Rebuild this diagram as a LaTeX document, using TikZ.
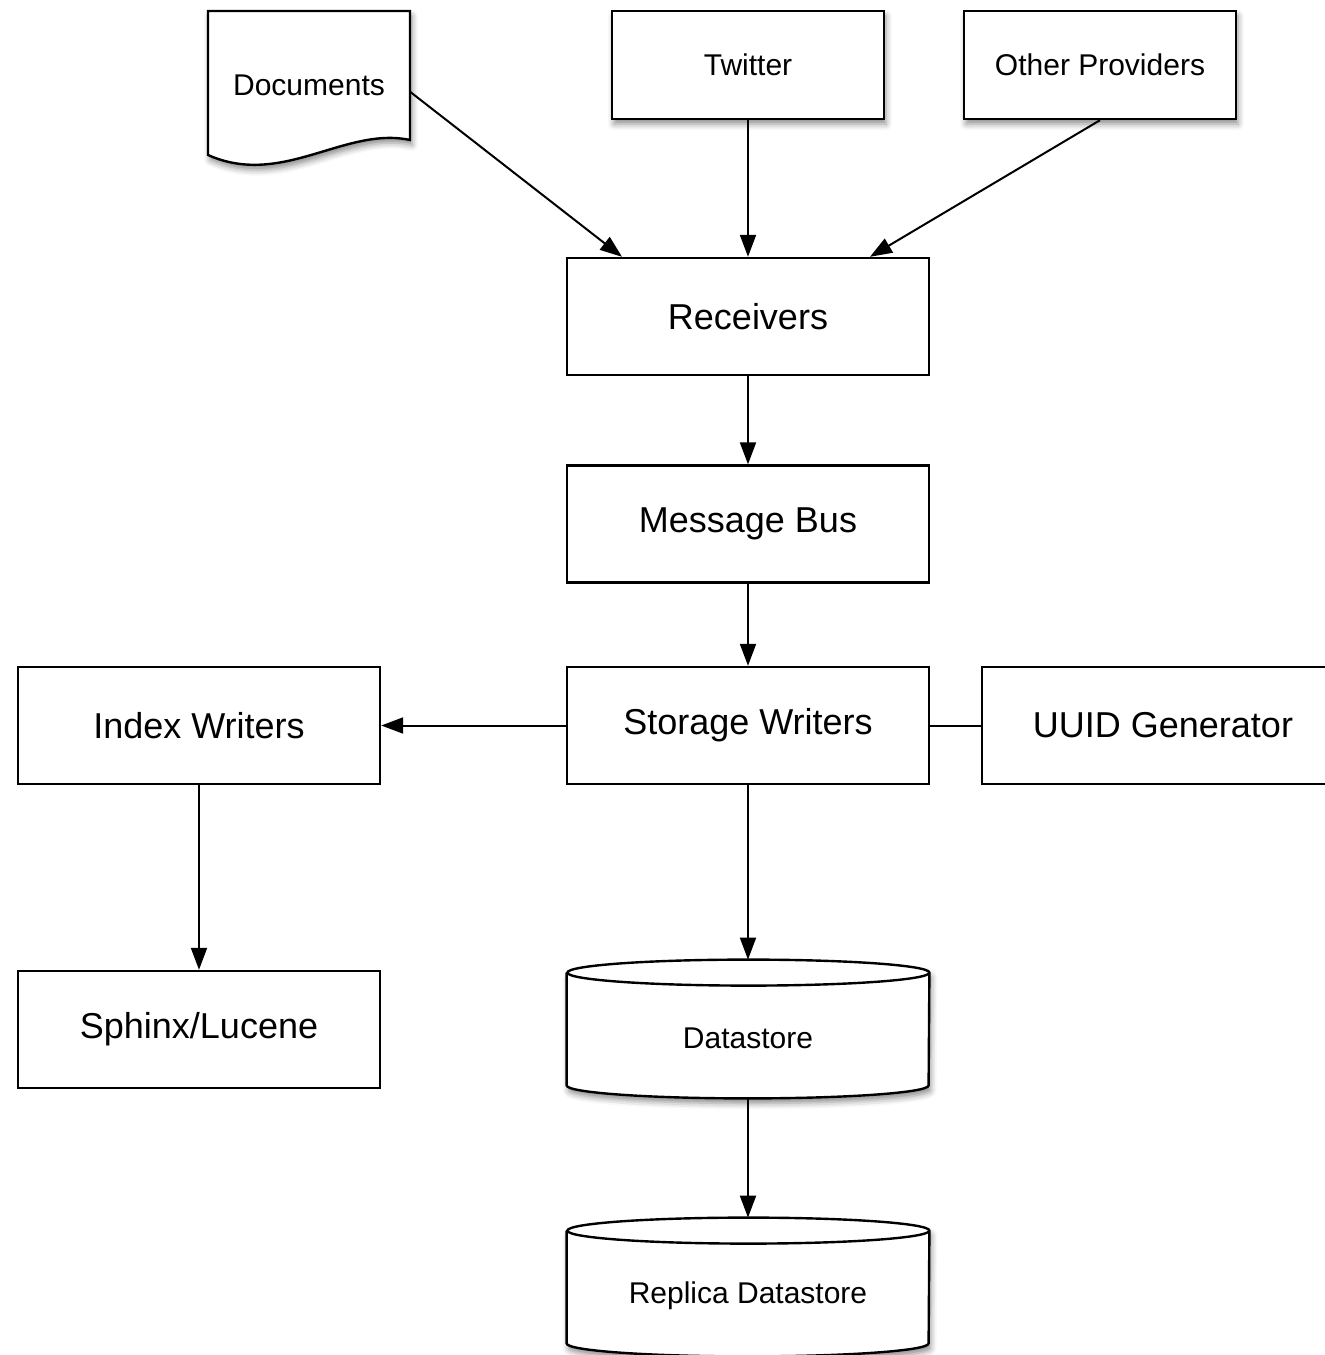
\documentclass[tikz,border=0pt]{standalone}
\usepackage{fontspec}
\setmainfont{Liberation Sans}
\usepackage{tikz}
\usetikzlibrary{arrows.meta,positioning,calc,shadows.blur}
\definecolor{pipeline}{HTML}{000000}
\definecolor{pipeshadow}{HTML}{555555}

\begin{document}
\begin{tikzpicture}[
  x=0.5pt,y=-0.5pt,
  font=\fontsize{18}{21}\selectfont,
  softshadow/.style={blur shadow={shadow xshift=1pt,shadow yshift=-2.5pt,shadow blur radius=3pt,shadow opacity=45}},
  box/.style={draw=pipeline,line width=1.2pt,fill=white,minimum width=181pt,minimum height=58.5pt,inner sep=0pt},
  source/.style={box,softshadow,minimum width=136pt,minimum height=54pt,font=\fontsize{15}{18}\selectfont},
  store/.style={minimum width=181pt,minimum height=69pt,inner sep=0pt,font=\fontsize{15}{18}\selectfont},
  outline/.style={draw=pipeline,line width=1.2pt,fill=white,softshadow},
  flow/.style={-{Triangle[length=11pt,width=8pt]},line width=1pt,pipeline}
]
\useasboundingbox (0,0) rectangle (1324,1355);

% inputs
\draw[outline] (208,11) -- (410,11) -- (410,140)
  .. controls (345,126) and (282,188) .. (208,155) -- cycle;
\node[minimum width=101pt,inner sep=0pt,font=\fontsize{15}{18}\selectfont] (doc) at (309,85) {Documents};
\node[source] (twitter) at (748,65) {Twitter};
\node[source] (other) at (1100,65) {Other Providers};

% pipeline
\node[box] (recv) at (748,316.5) {Receivers};
\node[box] (bus) at (748,524) {Message Bus};
\node[box] (storage) at (748,725.5) {Storage Writers};
\node[box] (index) at (199,725.5) {Index Writers};
\node[box] (uuid) at (1163,725.5) {UUID Generator};
\node[box] (sphinx) at (199,1029.5) {Sphinx/Lucene};

% datastores
\node[store] (data) at (748,1029) {};
\node[store] (replica) at (748,1287) {};
\foreach \db in {data,replica}{
  \draw[outline] ([yshift=-6.5pt]\db.north west) -- ([yshift=6.5pt]\db.south west)
    arc[start angle=180,end angle=360,x radius=90.5pt,y radius=6.5pt]
    -- ([yshift=-6.5pt]\db.north east)
    arc[start angle=0,end angle=180,x radius=90.5pt,y radius=6.5pt]
    arc[start angle=180,end angle=360,x radius=90.5pt,y radius=6.5pt];
}
\node[font=\fontsize{15}{18}\selectfont] (datatext) at ([yshift=-4.5pt]data.center) {Datastore};
\node[font=\fontsize{15}{18}\selectfont] (replicatext) at ([yshift=-4.5pt]replica.center) {Replica Datastore};

% connectors
\draw[flow] ([yshift=-3.5pt]doc.east) -- ([xshift=-63pt]recv.north);
\draw[flow] (twitter) -- (recv);
\draw[flow] (other.south) -- ([xshift=61pt]recv.north);
\draw[flow] (recv) -- (bus);
\draw[flow] (bus) -- (storage);
\draw[flow] (storage) -- (index);
\draw[line width=1pt,pipeline] (storage) -- (uuid);
\draw[flow] (storage.south) -- (data.north);
\draw[flow] (index) -- (sphinx);
\draw[flow] (data.south) -- (replica.north);
\end{tikzpicture}
\end{document}
